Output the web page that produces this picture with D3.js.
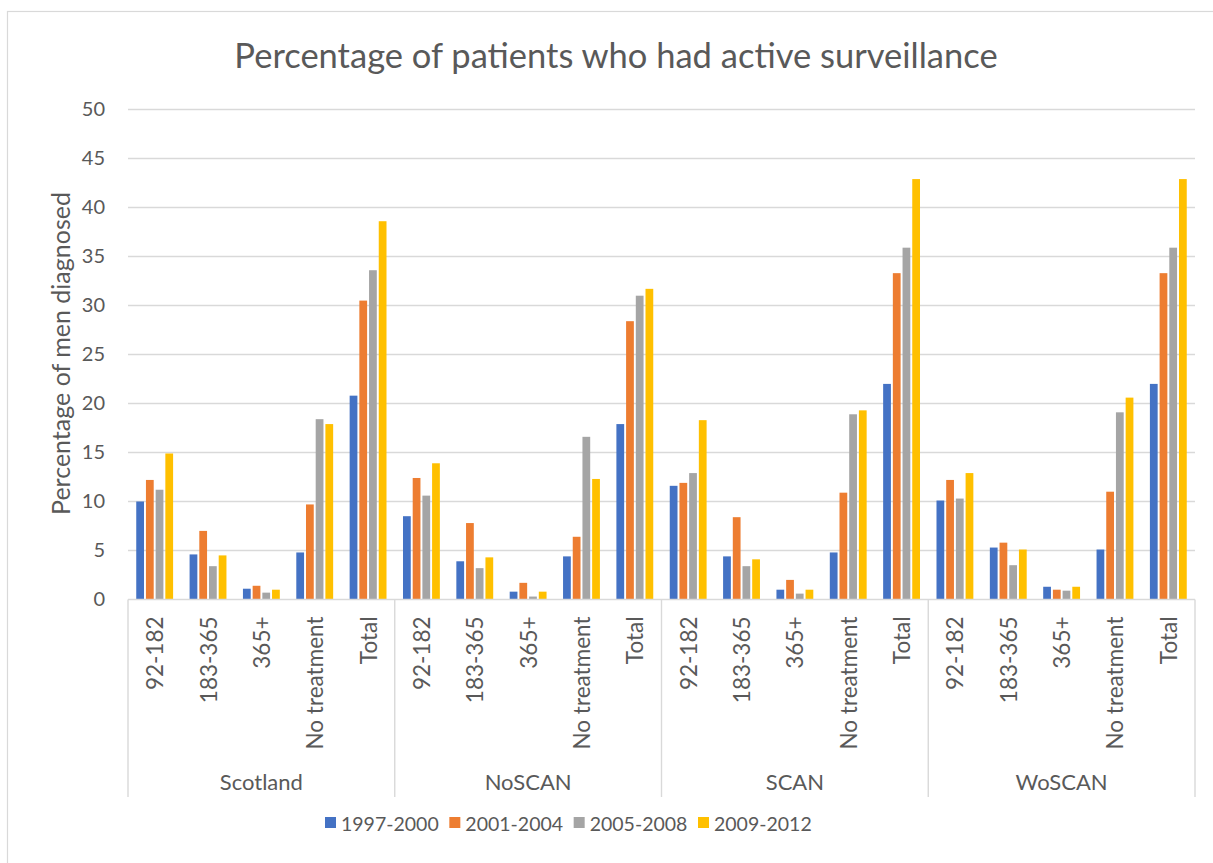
<!DOCTYPE html>
<html>
<head>
<meta charset="utf-8">
<script src="https://cdn.jsdelivr.net/npm/d3@7"></script>
<style>
  html, body { margin: 0; padding: 0; background: #fff; }
  svg { display: block; font-family: Lato, "Open Sans", sans-serif; }
</style>
</head>
<body>
<svg id="chart" width="1213" height="863"></svg>
<script>
// Regions and waiting-time categories
const regions = ["Scotland", "NoSCAN", "SCAN", "WoSCAN"];
const categories = ["92-182", "183-365", "365+", "No treatment", "Total"];
const periods = ["1997-2000", "2001-2004", "2005-2008", "2009-2012"];
const periodColors = ["#4472C4", "#ED7D31", "#A5A5A5", "#FFC000"];
const yTicks = [0, 5, 10, 15, 20, 25, 30, 35, 40, 45, 50];

// Percentage of men diagnosed, per region: rows = categories, columns = periods
const scotland = [
  [10.0, 12.2, 11.2, 14.9],
  [4.6, 7.0, 3.4, 4.5],
  [1.1, 1.4, 0.7, 1.0],
  [4.8, 9.7, 18.4, 17.9],
  [20.8, 30.5, 33.6, 38.6]
];
const noscan = [
  [8.5, 12.4, 10.6, 13.9],
  [3.9, 7.8, 3.2, 4.3],
  [0.8, 1.7, 0.3, 0.8],
  [4.4, 6.4, 16.6, 12.3],
  [17.9, 28.4, 31.0, 31.7]
];
const scan = [
  [11.6, 11.9, 12.9, 18.3],
  [4.4, 8.4, 3.4, 4.1],
  [1.0, 2.0, 0.6, 1.0],
  [4.8, 10.9, 18.9, 19.3],
  [22.0, 33.3, 35.9, 42.9]
];
const woscan = [
  [10.1, 12.2, 10.3, 12.9],
  [5.3, 5.8, 3.5, 5.1],
  [1.3, 1.0, 0.9, 1.3],
  [5.1, 11.0, 19.1, 20.6],
  [22.0, 33.3, 35.9, 42.9]
];
const regionValues = [scotland, noscan, scan, woscan];

const svg = d3.select("#chart");
const textColor = "#595959";
const lineColor = "#d9d9d9";

// Outer chart frame
svg.append("rect")
  .attr("x", 7.5).attr("y", 11.5)
  .attr("width", 1230).attr("height", 880)
  .attr("fill", "none").attr("stroke", lineColor).attr("stroke-width", 1.2);

const plot = { left: 128, right: 1195, top: 109.5, bottom: 599.5 };
const axisBoxBottom = 797;

// Flatten into (region, category) slots
const slots = [];
regions.forEach((r, ri) => categories.forEach((c, ci) => {
  slots.push({ key: r + "|" + c, region: r, category: c, values: regionValues[ri][ci] });
}));

const x0 = d3.scaleBand()
  .domain(slots.map(d => d.key))
  .range([plot.left, plot.right]);

const x1 = d3.scaleBand()
  .domain(periods)
  .range([0, x0.bandwidth()])
  .paddingInner(0.2)
  .paddingOuter(0.85);

const xRegion = d3.scaleBand()
  .domain(regions)
  .range([plot.left, plot.right]);

const y = d3.scaleLinear().domain([0, 50]).range([plot.bottom, plot.top]);

// Gridlines
svg.append("g")
  .selectAll("line")
  .data(yTicks.filter(t => t > 0))
  .join("line")
  .attr("x1", plot.left).attr("x2", plot.right)
  .attr("y1", d => y(d)).attr("y2", d => y(d))
  .attr("stroke", lineColor).attr("stroke-width", 1.4);

// Y axis labels
const yAxis = d3.axisLeft(y).tickValues(yTicks).tickSize(0).tickPadding(23);
const yG = svg.append("g").attr("transform", `translate(${plot.left},0)`).call(yAxis);
yG.select(".domain").remove();
yG.selectAll("text")
  .attr("fill", textColor)
  .style("font-size", "20px")
  .style("font-family", "Lato, 'Open Sans', sans-serif");

// Bars
const slotG = svg.append("g")
  .selectAll("g")
  .data(slots)
  .join("g")
  .attr("transform", d => `translate(${x0(d.key)},0)`);

slotG.selectAll("rect")
  .data(d => d.values.map((v, i) => ({ period: periods[i], value: v, color: periodColors[i] })))
  .join("rect")
  .attr("x", d => x1(d.period))
  .attr("width", x1.bandwidth())
  .attr("y", d => y(d.value))
  .attr("height", d => y(0) - y(d.value))
  .attr("fill", d => d.color);

// Category axis: baseline and region separators
svg.append("line")
  .attr("x1", plot.left).attr("x2", plot.right)
  .attr("y1", plot.bottom).attr("y2", plot.bottom)
  .attr("stroke", lineColor).attr("stroke-width", 1.4);

const separators = regions.map(r => xRegion(r)).concat([plot.right]);
svg.append("g")
  .selectAll("line")
  .data(separators)
  .join("line")
  .attr("x1", d => d).attr("x2", d => d)
  .attr("y1", plot.bottom).attr("y2", axisBoxBottom)
  .attr("stroke", lineColor).attr("stroke-width", 1.4);

// Category labels (rotated)
svg.append("g")
  .selectAll("text")
  .data(slots)
  .join("text")
  .attr("transform", d => `translate(${x0(d.key) + x0.bandwidth() / 2 + 8.5},${plot.bottom + 17}) rotate(-90)`)
  .attr("text-anchor", "end")
  .attr("fill", textColor)
  .style("font-size", "22.5px")
  .text(d => d.category);

// Region labels
svg.append("g")
  .selectAll("text")
  .data(regions)
  .join("text")
  .attr("x", d => xRegion(d) + xRegion.bandwidth() / 2)
  .attr("y", 790)
  .attr("text-anchor", "middle")
  .attr("fill", textColor)
  .style("font-size", "22px")
  .text(d => d);

// Title
svg.append("text")
  .attr("x", 616).attr("y", 68)
  .attr("text-anchor", "middle")
  .attr("fill", textColor)
  .style("font-size", "34.5px")
  .text("Percentage of patients who had active surveillance");

// Y axis title
svg.append("text")
  .attr("transform", `translate(70,${(plot.top + plot.bottom) / 2 - 1}) rotate(-90)`)
  .attr("text-anchor", "middle")
  .attr("fill", textColor)
  .style("font-size", "25px")
  .text("Percentage of men diagnosed");

// Legend
const legendX = d3.scalePoint().domain(periods).range([325, 698]);
const legend = svg.append("g")
  .selectAll("g")
  .data(periods)
  .join("g")
  .attr("transform", d => `translate(${legendX(d)},817)`);
legend.append("rect")
  .attr("width", 11).attr("height", 11)
  .attr("fill", (d, i) => periodColors[i]);
legend.append("text")
  .attr("x", 16).attr("y", 14)
  .attr("fill", textColor)
  .style("font-size", "19.5px")
  .text(d => d);
</script>
</body>
</html>
